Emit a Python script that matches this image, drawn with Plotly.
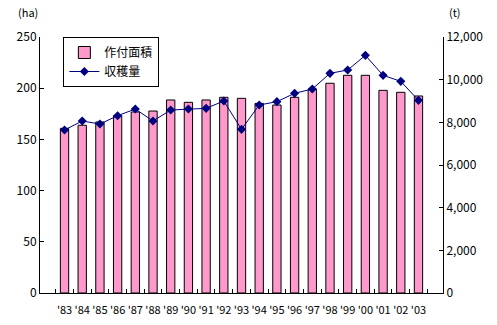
import plotly.graph_objects as go

years = ["'83", "'84", "'85", "'86", "'87", "'88", "'89", "'90", "'91", "'92", "'93",
         "'94", "'95", "'96", "'97", "'98", "'99", "'00", "'01", "'02", "'03"]
area_ha = [160.8, 163.8, 167, 173.2, 176.8, 177.7, 188.5, 186.2, 188.5, 191.1, 190.1,
           185.2, 183.6, 191.1, 199.2, 204.8, 212.6, 212.6, 197.9, 196, 192.4]
harvest_t = [7640, 8062, 7922, 8311, 8625, 8062, 8578, 8625, 8656, 9000, 7672,
             8812, 8969, 9359, 9562, 10297, 10453, 11141, 10203, 9922, 9031]

FONT = "Noto Sans CJK JP"

fig = go.Figure()
fig.add_trace(go.Bar(
    x=years, y=area_ha, name="作付面積",
    marker=dict(color="#FF99CC", line=dict(color="black", width=1)),
    yaxis="y",
))
fig.add_trace(go.Scatter(
    x=years, y=harvest_t, name="収穫量", mode="lines+markers",
    line=dict(color="#000080", width=1),
    marker=dict(symbol="diamond", size=7, color="#000080"),
    yaxis="y2",
))

fig.update_layout(
    width=497, height=325,
    margin=dict(l=40, r=54, t=37, b=32, autoexpand=False),
    paper_bgcolor="white", plot_bgcolor="white",
    font=dict(family=FONT, size=12, color="black"),
    bargap=0.53,
    showlegend=True,
    legend=dict(
        x=0.058, y=1.0, xanchor="left", yanchor="top",
        bgcolor="white", bordercolor="black", borderwidth=1,
        font=dict(family=FONT, size=12),
        itemwidth=30, tracegroupgap=0,
    ),
    xaxis=dict(
        type="category", showline=True, linecolor="black", linewidth=1,
        ticks="inside", ticklen=4, tickcolor="black", tickson="boundaries",
        showgrid=False, tickfont=dict(size=11), tickangle=0, automargin=False,
        ticklabelstandoff=7,
    ),
    yaxis=dict(
        range=[0, 250], dtick=50, showline=True, linecolor="black", linewidth=1,
        ticks="inside", ticklen=4, tickcolor="black", showgrid=False, zeroline=False,
        tickfont=dict(size=12), automargin=False,
    ),
    yaxis2=dict(
        range=[0, 12000], dtick=2000, overlaying="y", side="right",
        showline=True, linecolor="black", linewidth=1,
        ticks="inside", ticklen=4, tickcolor="black", showgrid=False, zeroline=False,
        tickformat=",d", tickfont=dict(size=12), automargin=False,
    ),
    annotations=[
        dict(text="(ha)", xref="paper", yref="paper", x=-0.03, y=1.06,
             xanchor="center", yanchor="bottom", showarrow=False, font=dict(size=11)),
        dict(text="(t)", xref="paper", yref="paper", x=1.03, y=1.06,
             xanchor="center", yanchor="bottom", showarrow=False, font=dict(size=11)),
    ],
)

fig.write_html("out.html")
